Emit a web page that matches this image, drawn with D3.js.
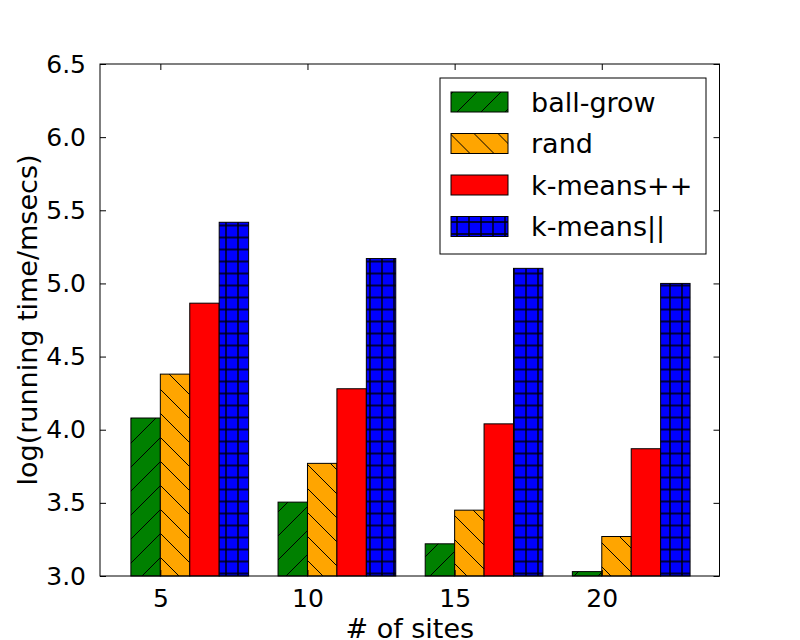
<!DOCTYPE html>
<html>
<head>
<meta charset="utf-8">
<script src="https://cdn.jsdelivr.net/npm/d3@7"></script>
<style>
  body { margin: 0; background: #fff; }
  text { font-family: "DejaVu Sans", sans-serif; fill: #000; }
</style>
</head>
<body>
<div id="chart"></div>
<script>
// data
var sites = ["5", "10", "15", "20"];
var methods = ["ball-grow", "rand", "k-means++", "k-means||"];
var ballGrow = [4.08, 3.505, 3.22, 3.03];
var rand = [4.38, 3.77, 3.45, 3.27];
var kmeansPP = [4.865, 4.28, 4.04, 3.87];
var kmeansPar = [5.418, 5.17, 5.103, 5.0];
var yTicks = [3.0, 3.5, 4.0, 4.5, 5.0, 5.5, 6.0, 6.5];

var series = [ballGrow, rand, kmeansPP, kmeansPar];
var colors = ["green", "orange", "red", "blue"];
var hatches = ["hatchNE", "hatchNW", null, "hatchGrid"];

var W = 800, H = 640;
var margin = {top: 64, right: 80.5, bottom: 64, left: 100};
var width = W - margin.left - margin.right;
var height = H - margin.top - margin.bottom;
var barW = 0.2;

var svg = d3.select("#chart").append("svg")
    .attr("width", W)
    .attr("height", H);

//hatch patterns, anchored to the page like matplotlib does
var defs = svg.append("defs");
var hd = 24, hs = 12;
var pNE = defs.append("pattern").attr("id", "hatchNE")
    .attr("patternUnits", "userSpaceOnUse")
    .attr("width", hd).attr("height", hd)
    .attr("x", 2);
pNE.append("path").attr("d", "M0," + hd + "L" + hd + ",0M-3,3L3,-3M" + (hd - 3) + "," + (hd + 3) + "L" + (hd + 3) + "," + (hd - 3))
    .attr("stroke", "#000").attr("stroke-width", 1);
var pNW = defs.append("pattern").attr("id", "hatchNW")
    .attr("patternUnits", "userSpaceOnUse")
    .attr("width", hd).attr("height", hd)
    .attr("x", -1);
pNW.append("path").attr("d", "M0,0L" + hd + "," + hd + "M-3," + (hd - 3) + "L3," + (hd + 3) + "M" + (hd - 3) + ",-3L" + (hd + 3) + ",3")
    .attr("stroke", "#000").attr("stroke-width", 1);
var pG = defs.append("pattern").attr("id", "hatchGrid")
    .attr("patternUnits", "userSpaceOnUse")
    .attr("width", hs).attr("height", hs)
    .attr("x", 0).attr("y", -0.5);
pG.append("path").attr("d", "M6,0V" + hs + "M0,6H" + hs)
    .attr("stroke", "#000").attr("stroke-width", 1.4);

var g = svg.append("g")
    .attr("transform", "translate(" + margin.left + "," + margin.top + ")");

var x = d3.scaleLinear().domain([-0.21, 4.0]).range([0, width]);
var y = d3.scaleLinear().domain([3.0, 6.5]).range([height, 0]);

//bars
series.forEach(function (vals, s) {
    var grp = g.append("g");
    var fillBar = function (sel) {
        sel.attr("x", function (d, i) { return x(i + s * barW); })
            .attr("y", function (d) { return y(d); })
            .attr("width", x(barW) - x(0))
            .attr("height", function (d) { return height - y(d); });
    };
    grp.selectAll("rect.base").data(vals).enter().append("rect")
        .attr("class", "base")
        .call(fillBar)
        .attr("fill", colors[s]);
    if (hatches[s]) {
        grp.selectAll("rect.hatch").data(vals).enter().append("rect")
            .attr("class", "hatch")
            .call(fillBar)
            .attr("fill", "url(#" + hatches[s] + ")");
    }
    grp.selectAll("rect.edge").data(vals).enter().append("rect")
        .attr("class", "edge")
        .call(fillBar)
        .attr("fill", "none")
        .attr("stroke", "#000")
        .attr("stroke-width", 1);
});

//axes with inward ticks on all sides
var tickPos = sites.map(function (d, i) { return i + barW; });
var xAxis = d3.axisBottom(x).tickValues(tickPos)
    .tickFormat(function (d, i) { return sites[i]; })
    .tickSizeInner(-6).tickSizeOuter(0).tickPadding(13);
var yAxis = d3.axisLeft(y).tickValues(yTicks)
    .tickFormat(d3.format(".1f"))
    .tickSizeInner(-6).tickSizeOuter(0).tickPadding(14);

var gx = g.append("g").attr("transform", "translate(0," + height + ")").call(xAxis);
var gy = g.append("g").call(yAxis);
g.append("g").call(d3.axisTop(x).tickValues(tickPos).tickFormat("").tickSizeInner(-6).tickSizeOuter(0));
g.append("g").attr("transform", "translate(" + width + ",0)")
    .call(d3.axisRight(y).tickValues(yTicks).tickFormat("").tickSizeInner(-6).tickSizeOuter(0));

g.selectAll(".domain").remove();
g.selectAll(".tick line").attr("stroke", "#000");
gx.selectAll("text").attr("font-size", "25px").attr("font-family", "DejaVu Sans");
gy.selectAll("text").attr("font-size", "25px").attr("font-family", "DejaVu Sans");

g.append("rect")
    .attr("width", width).attr("height", height)
    .attr("fill", "none").attr("stroke", "#000").attr("stroke-width", 1);

//axis labels
svg.append("text")
    .attr("x", margin.left + width / 2)
    .attr("y", 638)
    .attr("text-anchor", "middle")
    .attr("font-size", "27px")
    .text("# of sites");

svg.append("text")
    .attr("transform", "translate(37," + (margin.top + height / 2) + ") rotate(-90)")
    .attr("text-anchor", "middle")
    .attr("font-size", "27px")
    .text("log(running time/msecs)");

//legend
var leg = svg.append("g").attr("transform", "translate(440,78)");
leg.append("rect")
    .attr("width", 266).attr("height", 176)
    .attr("fill", "#fff").attr("stroke", "#000").attr("stroke-width", 1);
methods.forEach(function (m, i) {
    var row = leg.append("g").attr("transform", "translate(11," + (14 + i * 41.5) + ")");
    row.append("rect").attr("width", 57).attr("height", 20).attr("fill", colors[i]);
    if (hatches[i]) {
        row.append("rect").attr("width", 57).attr("height", 20).attr("fill", "url(#" + hatches[i] + ")");
    }
    row.append("rect").attr("width", 57).attr("height", 20)
        .attr("fill", "none").attr("stroke", "#000").attr("stroke-width", 1);
    row.append("text")
        .attr("x", 80).attr("y", 10)
        .attr("dy", "0.36em")
        .attr("font-size", "27px")
        .text(m);
});
</script>
</body>
</html>
